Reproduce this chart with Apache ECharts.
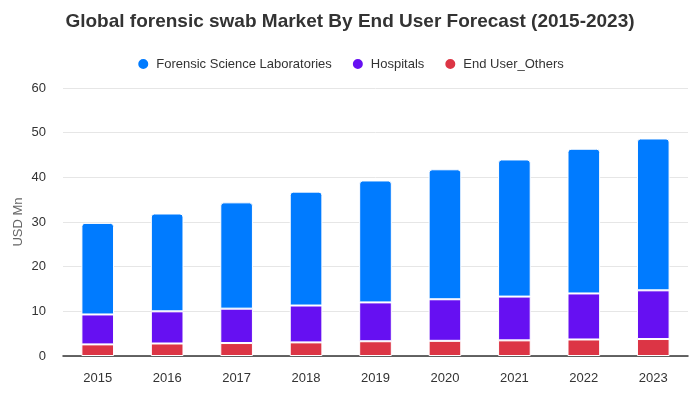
<!DOCTYPE html>
<html><head><meta charset="utf-8">
<script src="https://cdn.jsdelivr.net/npm/echarts@6/dist/echarts.min.js"></script>
<style>html,body{margin:0;padding:0;background:#fff}#c{width:700px;height:400px}</style>
</head><body><div id="c"></div>
<script>
const categories = ['2015','2016','2017','2018','2019','2020','2021','2022','2023'];
const others = [2.6, 2.8, 2.9, 3.05, 3.3, 3.4, 3.5, 3.7, 3.8];
const hospitals = [6.7, 7.2, 7.7, 8.25, 8.7, 9.3, 9.8, 10.3, 10.9];
const labs = [20.5, 21.9, 23.8, 25.5, 27.3, 29.1, 30.7, 32.4, 34.0];
const seriesNames = ['Forensic Science Laboratories', 'Hospitals', 'End User_Others'];
const colors = ['#007bff', '#6610f2', '#dc3545'];

const chart = echarts.init(document.getElementById('c'));
const font = 'Liberation Sans, Arial, sans-serif';
function bar(name, data, color, top) {
  return {
    name, type: 'bar', stack: 'total', data, barWidth: '47%',
    itemStyle: { color, borderColor: '#fff', borderWidth: 1, borderRadius: top ? [3,3,0,0] : 0 },
    emphasis: { disabled: true }
  };
}
chart.setOption({
  animation: false,
  color: colors,
  title: {
    text: 'Global forensic swab Market By End User Forecast (2015-2023)',
    left: 'center', top: 7,
    textStyle: { fontFamily: font, fontSize: 19, fontWeight: 'bold', color: '#333' }
  },
  legend: {
    top: 52, left: 'center', icon: 'circle', itemWidth: 12, itemHeight: 12, itemGap: 19,
    data: seriesNames,
    textStyle: { fontFamily: font, fontSize: 13, color: '#333', padding: [0, 0, 0, 2] }
  },
  grid: { left: 63, right: 12, top: 88, bottom: 44 },
  xAxis: {
    type: 'category', data: categories,
    axisLine: { lineStyle: { color: '#333', width: 1.5 } },
    axisTick: { show: false },
    axisLabel: { fontFamily: font, fontSize: 13, color: '#333', margin: 16 }
  },
  yAxis: {
    type: 'value', min: 0, max: 60, interval: 10,
    name: 'USD Mn', nameLocation: 'middle', nameGap: 38, nameRotate: 90, nameMoveOverlap: false,
    nameTextStyle: { fontFamily: font, fontSize: 13, color: '#666' },
    axisLine: { show: false }, axisTick: { show: false },
    axisLabel: { fontFamily: font, fontSize: 13, color: '#333', margin: 17 },
    splitLine: { lineStyle: { color: '#e6e6e6' } }
  },
  series: [
    bar(seriesNames[2], others, colors[2], false),
    bar(seriesNames[1], hospitals, colors[1], false),
    bar(seriesNames[0], labs, colors[0], true)
  ]
});
</script></body></html>
